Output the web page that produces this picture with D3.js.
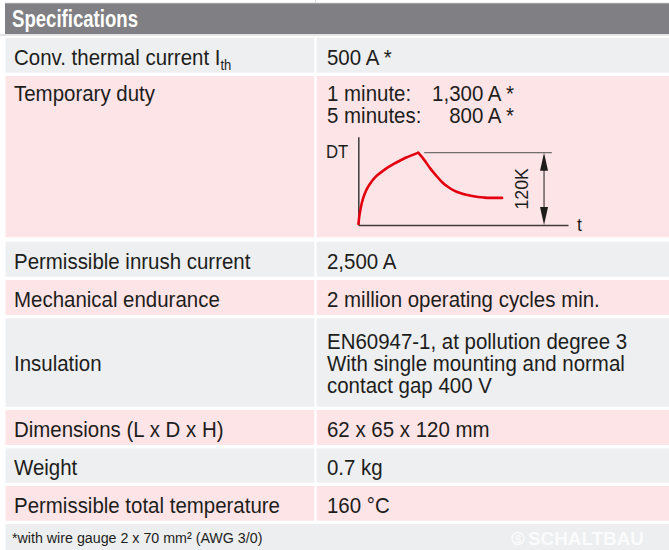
<!DOCTYPE html>
<html><head><meta charset="utf-8">
<script src="https://cdn.jsdelivr.net/npm/d3@7"></script>
<style>html,body{margin:0;padding:0;background:#fff;}svg{display:block;}</style>
</head><body>
<svg id="c" width="669" height="550"></svg>
<script>
// ---- data ----
const title = "Specifications";
const labels = ["Conv. thermal current I", "Temporary duty", "Permissible inrush current", "Mechanical endurance", "Insulation", "Dimensions (L x D x H)", "Weight", "Permissible total temperature"];
const values = [["500 A *"], ["1 minute:", "5 minutes:"], ["2,500 A"], ["2 million operating cycles min."], ["EN60947-1, at pollution degree 3", "With single mounting and normal", "contact gap 400 V"], ["62 x 65 x 120 mm"], ["0.7 kg"], ["160 °C"]];
const dutyValues = ["1,300 A *", "800 A *"];
const footnote = "*with wire gauge 2 x 70 mm² (AWG 3/0)";
// temperature-rise sketch (time in arbitrary units, DT in K)
const tHeat  = [0, 0.08, 0.2, 0.4, 0.65, 1.0, 1.5, 2.0, 2.5, 3.0, 3.5, 4.0, 4.5, 5.0];
const dtHeat = [0, 14, 28, 44, 57, 69, 81, 89, 96, 102, 107, 112, 116, 120];
const tCool  = [5.0, 5.5, 6.0, 6.5, 7.0, 7.5, 8.0, 8.5, 9.0, 9.5, 10.0, 10.5, 11.0, 12.0];
const dtCool = [120, 108, 94, 82, 71, 63, 57, 53, 50, 48, 46.5, 45.5, 45, 45];
const riseLabel = "120K";
const riseValue = 120;

const svg = d3.select("#c");
const FONT = "'Liberation Sans', Arial, Helvetica, sans-serif";
const PINK = "#fde4e7", GREY = "#eeeff1", INK = "#1d1d1b";
const SX = 0.93; // condensed look

// layout bands
const rowTops = [37.7, 76, 241.7, 280, 318.3, 410, 448.3, 486];
const rowBots = [72.7, 237.3, 276.7, 315, 406.7, 445, 482.7, 520.7];
const rowFill = [GREY, PINK, GREY, PINK, GREY, PINK, GREY, PINK];
const colL = [5.5, 314.3], colR = [316.7, 669];

// header
svg.append("rect").attr("x", 5).attr("y", 3).attr("width", 664).attr("height", 31).attr("fill", "#808084");
svg.append("line").attr("x1", 5).attr("x2", 669).attr("y1", 3.3).attr("y2", 3.3).attr("stroke", "#a9a9ad").attr("stroke-width", 1);
svg.append("line").attr("x1", 0).attr("x2", 669).attr("y1", 35).attr("y2", 35).attr("stroke", "#c9c9cc").attr("stroke-width", 1);
svg.append("line").attr("x1", 315.5).attr("x2", 315.5).attr("y1", 0).attr("y2", 3).attr("stroke", "#dcdcdc").attr("stroke-width", 1);
svg.append("text").attr("x", 12).attr("y", 27).attr("fill", "#fff")
  .attr("font-family", FONT).attr("font-weight", "bold").attr("font-size", 23)
  .attr("textLength", 126).attr("lengthAdjust", "spacingAndGlyphs").text(title);

// rows
labels.forEach((lab, i) => {
  svg.append("rect").attr("x", colL[0]).attr("y", rowTops[i]).attr("width", colL[1] - colL[0]).attr("height", rowBots[i] - rowTops[i]).attr("fill", rowFill[i]);
  svg.append("rect").attr("x", colR[0]).attr("y", rowTops[i]).attr("width", colR[1] - colR[0]).attr("height", rowBots[i] - rowTops[i]).attr("fill", rowFill[i]);
});

function txt(x, y, s, size, anchor, sx) {
  return svg.append("text").attr("transform", `translate(${x},${y}) scale(${sx || SX},1)`).attr("fill", INK)
    .attr("font-family", FONT).attr("font-size", size || 22).attr("text-anchor", anchor || "start").text(s);
}
// label baselines
const labelBase = [64.5, 101, 268.7, 307, 371, 437, 475.3, 513];
labels.forEach((lab, i) => {
  const t = txt(14, labelBase[i], lab);
  if (i === 0) t.append("tspan").attr("font-size", 14).attr("dy", 5).text("th");
});
// value lines
const valueBase = [[64.5], [101, 123], [268.7], [307], [348.5, 371, 393], [437], [475.3], [513]];
values.forEach((vs, i) => vs.forEach((v, j) => txt(327, valueBase[i][j], v)));
dutyValues.forEach((v, j) => txt(514, valueBase[1][j], v, 22, "end"));

// footer
svg.append("rect").attr("x", 5.5).attr("y", 524).attr("width", 663.5).attr("height", 26).attr("fill", "#eceef0");
txt(12, 543, footnote, 15.5, "start", 0.92);
svg.append("circle").attr("cx", 518).attr("cy", 538.5).attr("r", 6).attr("fill", "none").attr("stroke", "#fbfbfb").attr("stroke-width", 1.4);
svg.append("text").attr("x", 518).attr("y", 542.5).attr("text-anchor", "middle").attr("fill", "#fbfbfb")
  .attr("font-family", FONT).attr("font-weight", "bold").attr("font-size", 10).text("S");
svg.append("text").attr("x", 528).attr("y", 545).attr("fill", "#fbfbfb")
  .attr("font-family", FONT).attr("font-weight", "bold").attr("font-size", 19)
  .attr("textLength", 116).attr("lengthAdjust", "spacingAndGlyphs").text("SCHALTBAU");

// ---- temperature rise sketch ----
const x = d3.scaleLinear().domain([0, 17.5]).range([358.3, 568]);
const y = d3.scaleLinear().domain([0, 146.5]).range([225, 136.7]);
const g = svg.append("g");
const axX = g.append("g").attr("transform", `translate(0,${y(0)})`)
  .call(d3.axisBottom(x).tickValues([]).tickSizeOuter(0));
const axY = g.append("g").attr("transform", `translate(${x(0)},0)`)
  .call(d3.axisLeft(y).tickValues([]).tickSizeOuter(0));
[axX, axY].forEach(a => a.select(".domain").attr("stroke", "#3c3c3b").attr("stroke-width", 1.5));
// reference line at peak
g.append("line").attr("x1", x(5.5)).attr("x2", x(16.15)).attr("y1", y(riseValue)).attr("y2", y(riseValue))
  .attr("stroke", "#6f6f6e").attr("stroke-width", 1.2);
// dimension arrow
const ax = x(15.5);
g.append("line").attr("x1", ax).attr("x2", ax).attr("y1", y(riseValue) + 4).attr("y2", y(0) - 4).attr("stroke", "#1d1d1b").attr("stroke-width", 1);
const ah = 18, aw = 4;
g.append("path").attr("d", `M${ax},${y(riseValue)} L${ax - aw},${y(riseValue) + ah} L${ax + aw},${y(riseValue) + ah} Z`).attr("fill", "#1d1d1b");
g.append("path").attr("d", `M${ax},${y(0)} L${ax - aw},${y(0) - ah} L${ax + aw},${y(0) - ah} Z`).attr("fill", "#1d1d1b");
// labels
g.append("text").attr("transform", `translate(${x(14.15)},${y(riseValue / 2)}) rotate(-90) scale(${SX},1)`)
  .attr("text-anchor", "middle").attr("fill", INK).attr("font-family", FONT).attr("font-size", 19).text(riseLabel);
g.append("text").attr("transform", `translate(326,157.5) scale(${SX},1)`).attr("fill", INK).attr("font-family", FONT).attr("font-size", 18).text("DT");
g.append("text").attr("transform", `translate(577,231) scale(${SX},1)`).attr("fill", INK).attr("font-family", FONT).attr("font-size", 19).text("t");
// curves
const line = d3.line().x(d => x(d[0])).y(d => y(d[1])).curve(d3.curveMonotoneX);
const heat = d3.zip(tHeat, dtHeat), cool = d3.zip(tCool, dtCool);
g.append("path").attr("d", line(heat)).attr("fill", "none").attr("stroke", "#e3000f").attr("stroke-width", 2.6).attr("stroke-linejoin", "round");
g.append("path").attr("d", line(cool)).attr("fill", "none").attr("stroke", "#e3000f").attr("stroke-width", 2.6).attr("stroke-linecap", "round");
</script>
</body></html>
